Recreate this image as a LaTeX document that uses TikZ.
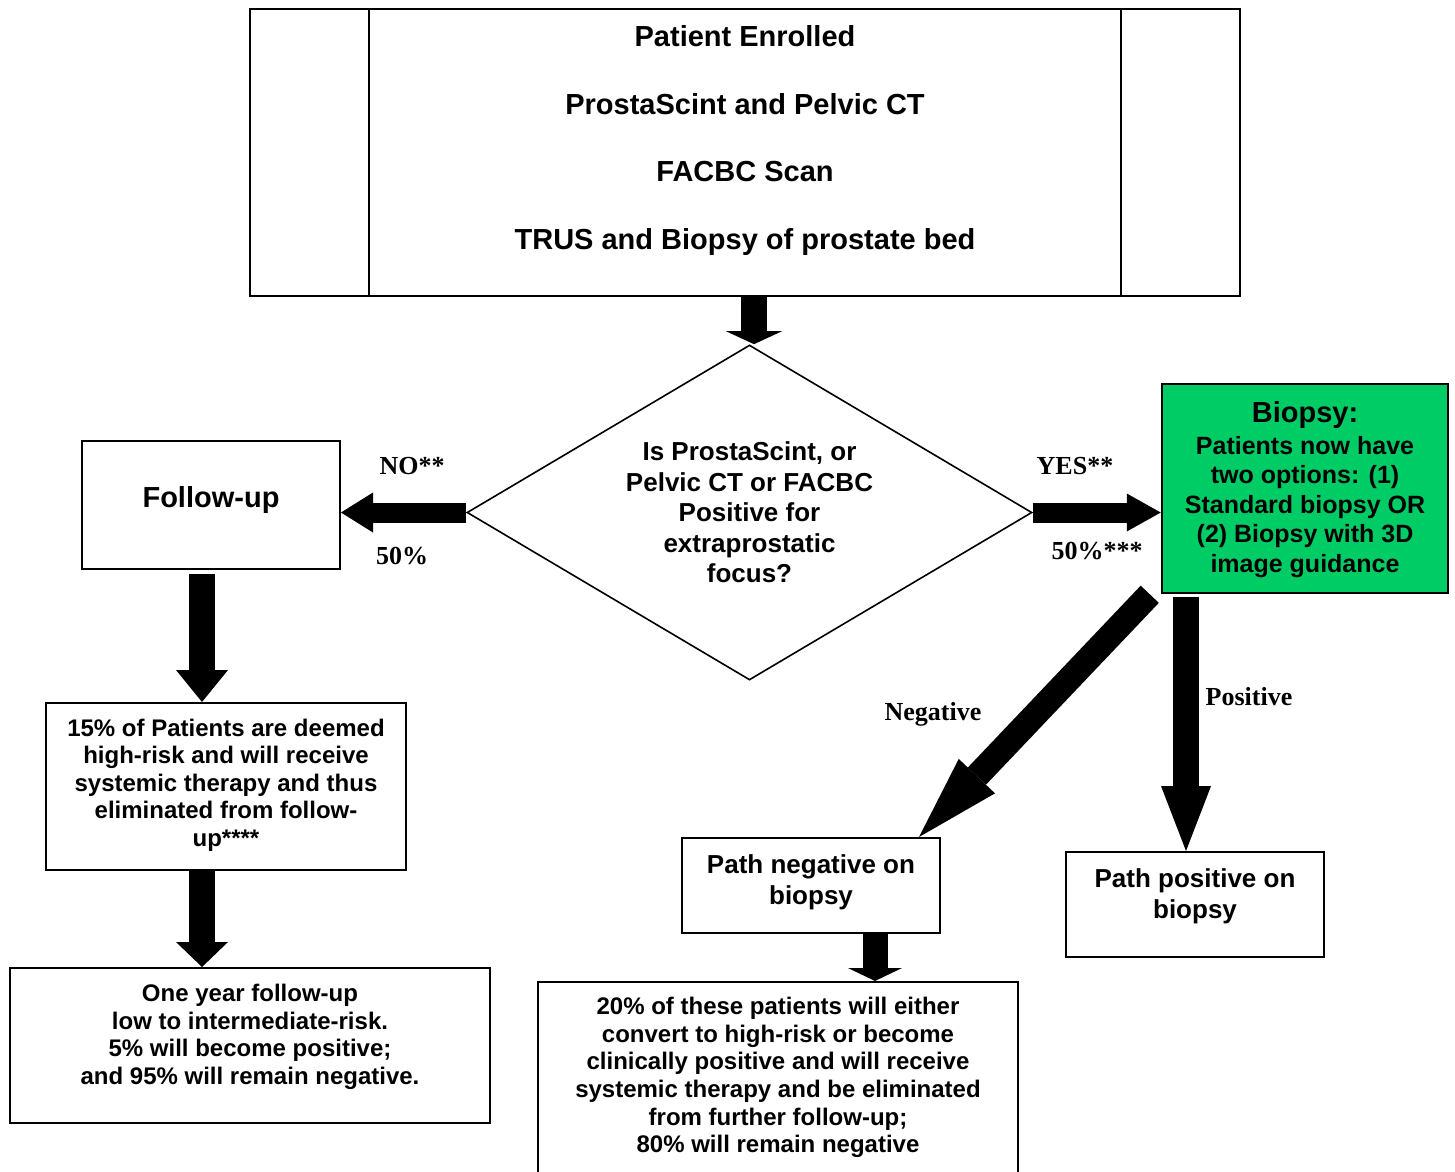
\documentclass[tikz,border=0pt]{standalone}
\usepackage{fontspec}
\setmainfont{Liberation Serif}
\setsansfont{Liberation Sans}
\usetikzlibrary{arrows.meta,shapes.geometric,calc}
\definecolor{biopsygreen}{HTML}{00CC66}
\tikzset{
    box/.style={draw, line width=2pt, inner sep=0pt},
    boxtext/.style={align=center, inner sep=0pt,
        font=\sffamily\bfseries\fontsize{24}{27.5}\selectfont},
    armlabel/.style={inner sep=0pt,
        font=\rmfamily\bfseries\fontsize{26}{28}\selectfont},
    block arrow/.style n args={3}{
        line width=#1,
        -{Triangle[width=#2, length=#3, line width=0pt]}
    }
}

\begin{document}
\begin{tikzpicture}[x=1pt, y=-1pt]
    \useasboundingbox (0,0) rectangle (1455,1171);
    \clip (0,0) rectangle (1455,1171);

    \coordinate (topaxis) at (754,0);
    \coordinate (leftaxis) at (202,0);
    \coordinate (negaxis) at (875,0);
    \coordinate (posaxis) at (1186,0);

    % top box
    \node[box, minimum width=990pt, minimum height=287pt] (enrolled) at (745,152.5) {};
    \draw[line width=2pt]
        ([xshift=120pt]enrolled.north west) -- ([xshift=120pt]enrolled.south west)
        ([xshift=-120pt]enrolled.north east) -- ([xshift=-120pt]enrolled.south east);
    \node[boxtext, font=\sffamily\bfseries\fontsize{29}{67.7}\selectfont] (enrolledtxt)
        at ($(enrolled.center)+(0,-12)$)
        {Patient Enrolled\\ProstaScint and Pelvic CT\\FACBC Scan\\TRUS and Biopsy of prostate bed};

    % decision
    \node[draw, diamond, line width=1.6pt, boxtext, aspect=1.69,
        minimum width=565pt, minimum height=335pt,
        font=\sffamily\bfseries\fontsize{26}{30.5}\selectfont] (decision) at (749.5,512.5)
        {Is ProstaScint, or\\Pelvic CT or FACBC\\Positive for\\extraprostatic\\focus?};

    % left branch
    \node[box, minimum width=258pt, minimum height=128pt] (followup) at (211,505) {};
    \node[boxtext, font=\sffamily\bfseries\fontsize{29}{32}\selectfont] (followuptxt)
        at ($(followup.center)+(0,-5)$) {Follow-up};

    \node[box, minimum width=360pt, minimum height=167pt] (risk) at (226,786.5) {};
    \node[boxtext] (risktxt) at (226,785)
        {15\% of Patients are deemed\\high-risk and will receive\\systemic therapy and thus\\eliminated from follow-\\up****};

    \node[box, minimum width=480pt, minimum height=155pt] (oneyear) at (250,1045.5) {};
    \node[boxtext] (oneyeartxt) at (250,1037)
        {One year follow-up\\low to intermediate-risk.\\5\% will become positive;\\and 95\% will remain negative.};

    % right branch
    \node[box, line width=2.5pt, fill=biopsygreen, minimum width=286pt, minimum height=209pt] (biopsy) at (1305,488.5) {};
    \node[boxtext, font=\sffamily\bfseries\fontsize{25}{29.5}\selectfont] (biopsytxt) at (1305,489.5)
        {{\fontsize{29}{32}\selectfont Biopsy:}\\[2.5pt]Patients now have\\two options: (1)\\Standard biopsy OR\\(2) Biopsy with 3D\\image guidance};

    \node[box, minimum width=258pt, minimum height=95pt] (negbox) at (811,885.5) {};
    \node[boxtext, font=\sffamily\bfseries\fontsize{26}{31}\selectfont] (negboxtxt) at (811,882.5)
        {Path negative on\\biopsy};

    \node[box, minimum width=258pt, minimum height=105pt] (posbox) at (1195,904.5) {};
    \node[boxtext, font=\sffamily\bfseries\fontsize{26}{31}\selectfont] (posboxtxt) at (1195,896.5)
        {Path positive on\\biopsy};

    \node[box, minimum width=480pt, minimum height=208pt] (detail) at (778,1086) {};
    \node[boxtext, font=\sffamily\bfseries\fontsize{24}{27.6}\selectfont] (detailtxt) at (778,1077.5)
        {20\% of these patients will either\\convert to high-risk or become\\clinically positive and will receive\\systemic therapy and be eliminated\\from further follow-up;\\80\% will remain negative};

    % labels
    \node[armlabel] (nolabel) at (412,466) {NO**};
    \node[armlabel] (nopct) at (402,556) {50\%};
    \node[armlabel] (yeslabel) at (1075,466) {YES**};
    \node[armlabel] (yespct) at (1097,551) {50\%***};
    \node[armlabel] (neglabel) at (933,714) {Negative};
    \node[armlabel] (poslabel) at (1249,697) {Positive};

    % arrows
    \draw[block arrow={26pt}{56pt}{13pt}] (enrolled.south -| topaxis) -- (decision.north -| topaxis);
    \draw[block arrow={20pt}{40pt}{32pt}] (decision.west) -- (decision.west -| followup.east);
    \draw[block arrow={20pt}{38pt}{34pt}] (decision.east) -- (decision.east -| biopsy.west);
    \draw[block arrow={26pt}{52pt}{32pt}] ([yshift=-4pt]followup.south -| leftaxis) -- (risk.north -| leftaxis);
    \draw[block arrow={26pt}{52pt}{25pt}] (risk.south -| leftaxis) -- (oneyear.north -| leftaxis);
    \draw[block arrow={25pt}{50pt}{84pt}] ([xshift=-11pt]biopsy.south west) -- ([xshift=-22pt]negbox.north east);
    \draw[block arrow={26pt}{50pt}{65pt}] ([yshift=-3pt]biopsy.south -| posaxis) -- (posbox.north -| posaxis);
    \draw[block arrow={25pt}{54pt}{13pt}] (negbox.south -| negaxis) -- (detail.north -| negaxis);
\end{tikzpicture}
\end{document}
